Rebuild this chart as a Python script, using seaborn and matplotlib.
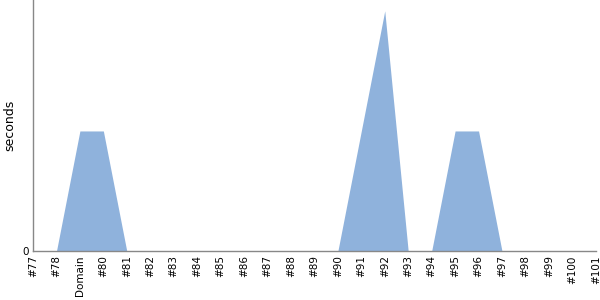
import matplotlib
matplotlib.use("Agg")
import matplotlib.pyplot as plt
import seaborn as sns
import numpy as np
import pandas as pd

labels = ["#77", "#78", "Domain", "#80", "#81", "#82", "#83", "#84", "#85", "#86",
          "#87", "#88", "#89", "#90", "#91", "#92", "#93", "#94", "#95", "#96",
          "#97", "#98", "#99", "#100", "#101"]
seconds = [0, 0, 1, 1, 0, 0, 0, 0, 0, 0,
           0, 0, 0, 0, 1, 2, 0, 0, 1, 1,
           0, 0, 0, 0, 0]

sns.set_style("white")
plt.rcParams['font.family'] = ['DejaVu Sans']

df = pd.DataFrame({"x": np.arange(len(labels)), "seconds": seconds})

fig = plt.figure(figsize=(6, 3), dpi=100)
ax = fig.add_axes([0.055, 0.163, 0.938, 0.837])
color = "#8fb2dc"
sns.lineplot(data=df, x="x", y="seconds", ax=ax, color=color, linewidth=0)
ax.fill_between(df["x"], df["seconds"], 0, color=color, linewidth=0)

ax.set_xlim(0, len(labels) - 1)
ax.set_ylim(0, 2.09)
ax.set_xticks(df["x"])
ax.set_xticklabels(labels, rotation=90, fontsize=7.5, color="black")
ax.set_yticks([0])
ax.set_yticklabels(["0"], fontsize=7.5, color="black")
ax.set_xlabel("")
ax.set_ylabel("seconds", fontsize=9, color="black")
ax.tick_params(axis="both", length=0, pad=3)
for s in ["top", "right"]:
    ax.spines[s].set_visible(False)
for s in ["left", "bottom"]:
    ax.spines[s].set_color("#888888")
    ax.spines[s].set_linewidth(1)

fig.savefig("out.png", dpi=100)
